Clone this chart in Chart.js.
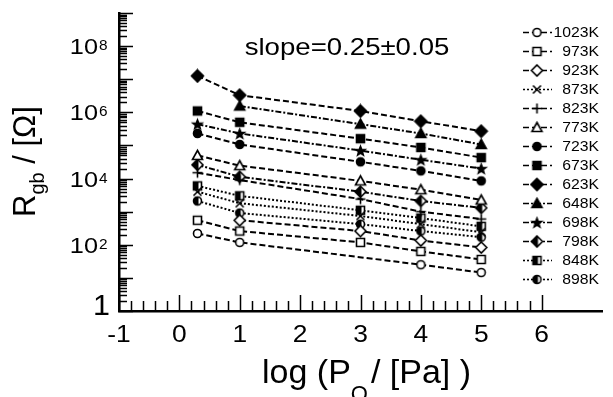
<!DOCTYPE html>
<html>
<head>
<meta charset="utf-8">
<script src="https://cdn.jsdelivr.net/npm/chart.js@4.4.0/dist/chart.umd.min.js"></script>
<style>
html,body{margin:0;padding:0;background:#fff}
#wrap{width:613px;height:397px}
</style>
</head>
<body>
<div id="wrap"><canvas id="c" width="613" height="397"></canvas></div>
<script>
// log(PO2/Pa) measurement points
const pO2 = [0.3, 1, 3, 4, 5];
const temps = ['1023K','973K','923K','873K','823K','773K','723K','673K','623K','648K','698K','798K','848K','898K'];
// grain boundary resistance (ohm); null = no point
const r1023 = [220, 118, null, 25, 14.5];
const r973  = [550, 260, 118, 63, 36];
const r923  = [null, 550, 260, 135, 83];
const r873  = [4000, 1800, 740, 420, 240];
const r823  = [15000, 9000, 2400, 1000, 600];
const r773  = [50000, 24500, 8500, 4600, 2250];
const r723  = [230000, 107000, 32000, 17000, 8500];
const r673  = [1100000, 500000, 160000, 87000, 43000];
const r623  = [12600000, 3300000, 1100000, 540000, 270000];
const r648  = [null, 1550000, 440000, 230000, 107000];
const r698  = [440000, 230000, 70000, 37000, 20000];
const r798  = [26000, 11300, 4000, 2100, 1300];
const r848  = [6000, 3000, 1100, 640, 360];
const r898  = [2100, 910, 420, 260, 170];
const series = [r1023,r973,r923,r873,r823,r773,r723,r673,r623,r648,r698,r798,r848,r898];
const xTicks = [-1,0,1,2,3,4,5,6];
const yLabelExp = [2,4,6,8];

const FONT = '"Liberation Sans", Arial, Helvetica, sans-serif';
const DASH = [6,3], DASHDOT = [6,2,2,2], DOT = [2,2];

function marker(shape, fill){
  const c = document.createElement('canvas');
  c.width = c.height = 15;
  const g = c.getContext('2d');
  const m = 7.5;
  g.lineWidth = 1.6; g.strokeStyle = '#000';
  g.beginPath();
  if(shape==='circle'){ g.arc(m,m,4,0,Math.PI*2); }
  else if(shape==='square'){ g.rect(m-4,m-4,8,8); }
  else if(shape==='diamond'){ const d = fill==='full'?6:5.5; g.moveTo(m,m-d);g.lineTo(m+d,m);g.lineTo(m,m+d);g.lineTo(m-d,m);g.closePath(); }
  else if(shape==='triangle'){ g.moveTo(m,m-5);g.lineTo(m+5,m+4);g.lineTo(m-5,m+4);g.closePath(); }
  else if(shape==='star'){
    for(let i=0;i<10;i++){ const r=i%2?2:4.8, a=-Math.PI/2+i*Math.PI/5; const px=m+r*Math.cos(a), py=m+0.5+r*Math.sin(a); i?g.lineTo(px,py):g.moveTo(px,py); }
    g.closePath();
  }
  else if(shape==='plus'){ g.moveTo(m-5,m);g.lineTo(m+5,m);g.moveTo(m,m-5);g.lineTo(m,m+5); g.stroke(); return c; }
  else if(shape==='cross'){ g.moveTo(m-4,m-4);g.lineTo(m+4,m+4);g.moveTo(m+4,m-4);g.lineTo(m-4,m+4); g.stroke(); return c; }
  g.fillStyle = '#fff'; g.fill();
  if(fill==='full'){ g.fillStyle='#000'; g.fill(); }
  if(fill==='half'){ g.save(); g.clip(); g.fillStyle='#000'; g.fillRect(0,0,m+1,15); g.restore(); }
  g.stroke();
  return c;
}

const styles = [
  [marker('circle','open'), DASH],
  [marker('square','open'), DASH],
  [marker('diamond','open'), DASH],
  [marker('cross'), DOT],
  [marker('plus'), DASH],
  [marker('triangle','open'), DASH],
  [marker('circle','full'), DASH],
  [marker('square','full'), DASH],
  [marker('diamond','full'), DASH],
  [marker('triangle','full'), DASHDOT],
  [marker('star','full'), DASHDOT],
  [marker('diamond','half'), DASHDOT],
  [marker('square','half'), DOT],
  [marker('circle','half'), DOT]
];

const datasets = temps.map((t,i)=>({
  label: t,
  data: pO2.map((x,j)=>({x, y: series[i][j]})),
  showLine: true, spanGaps: true,
  borderColor: '#000', borderWidth: 2, borderDash: styles[i][1],
  pointStyle: styles[i][0], pointRadius: 5
}));

function txt(ctx, s, x, y, size, align, sx){
  ctx.save();
  ctx.font = size + 'px ' + FONT;
  ctx.fillStyle = '#000';
  ctx.textAlign = align || 'left';
  ctx.textBaseline = 'alphabetic';
  ctx.translate(x, y);
  ctx.scale(sx || 1, 1);
  ctx.fillText(s, 0, 0);
  const w = ctx.measureText(s).width * (sx || 1);
  ctx.restore();
  return w;
}

const decor = {
  id: 'decor',
  afterDraw(chart){
    const ctx = chart.ctx, xs = chart.scales.x, ys = chart.scales.y, a = chart.chartArea;
    ctx.save();
    ctx.strokeStyle = '#000'; ctx.lineWidth = 1.5; ctx.setLineDash([]);
    // x ticks pointing inward
    ctx.beginPath();
    for(let i=-5;i<=30;i++){
      const px = Math.round(xs.getPixelForValue(i/5)) + 0.5;
      const len = i%5===0 ? 16 : 10;
      ctx.moveTo(px, a.bottom); ctx.lineTo(px, a.bottom - len);
    }
    // y ticks (log) pointing inward
    for(let k=0;k<=9;k++){
      const py = Math.round(ys.getPixelForValue(Math.pow(10,k))) + 0.5;
      ctx.moveTo(a.left, py); ctx.lineTo(a.left + 14, py);
      if(k<9) for(let m=2;m<=9;m++){
        const q = Math.round(ys.getPixelForValue(m*Math.pow(10,k))) + 0.5;
        ctx.moveTo(a.left, q); ctx.lineTo(a.left + 8, q);
      }
    }
    ctx.stroke();
    // x tick labels
    xTicks.forEach(v=>{
      txt(ctx, v<0 ? '-' + Math.abs(v) : String(v), xs.getPixelForValue(v), 342, 24, 'center', 1.1);
    });
    // y tick labels
    txt(ctx, '1', 110, ys.getPixelForValue(1) + 4, 29, 'right', 1.05);
    yLabelExp.forEach(k=>{
      const py = ys.getPixelForValue(Math.pow(10,k));
      txt(ctx, '10', 98, py + 8, 22, 'right', 1.15);
      txt(ctx, String(k), 99, py + 4, 14, 'left', 1.1);
    });
    // annotation
    txt(ctx, 'slope=0.25\u00b10.05', 347, 55, 24, 'center', 1.15);
    // x title
    let x = 262;
    x += txt(ctx, 'log (P', x, 383, 34, 'left', 1);
    const wo = txt(ctx, 'O', x, 401, 22, 'left', 1);
    txt(ctx, '2', x + wo, 407, 14, 'left', 1);
    txt(ctx, '/ [Pa] )', x + wo + 3, 383, 34, 'left', 1);
    // y title (rotated)
    ctx.save();
    ctx.translate(35, 217);
    ctx.rotate(-Math.PI/2);
    let t = 0;
    t += txt(ctx, 'R', t, 0, 31, 'left', 1);
    t += txt(ctx, 'gb', t, 9, 20, 'left', 1);
    txt(ctx, ' / [\u03a9]', t, 0, 31, 'left', 1);
    ctx.restore();
    // legend
    chart.data.datasets.forEach((ds,i)=>{
      const y = 32 + 19*i;
      ctx.save();
      ctx.lineWidth = 1.6; ctx.setLineDash(ds.borderDash);
      ctx.beginPath(); ctx.moveTo(523, y + 0.5); ctx.lineTo(552, y + 0.5); ctx.stroke();
      ctx.restore();
      ctx.drawImage(ds.pointStyle, 537 - 7.5, y - 7);
      txt(ctx, ds.label, 599, y + 5, 15, 'right', 1.05);
    });
    ctx.restore();
  }
};

new Chart(document.getElementById('c'), {
  type: 'scatter',
  data: { datasets },
  options: {
    responsive: false, animation: false, devicePixelRatio: 1,
    layout: { padding: { left: 119, top: 13, right: 11, bottom: 86 } },
    plugins: { legend: { display: false }, tooltip: { enabled: false } },
    scales: {
      x: {
        type: 'linear', min: -1, max: 7,
        grid: { display: false, drawTicks: false },
        border: { display: true, color: '#000', width: 2.5 },
        ticks: { display: false }
      },
      y: {
        type: 'logarithmic', min: 1, max: 1e9,
        grid: { display: false, drawTicks: false },
        border: { display: true, color: '#000', width: 2.5 },
        ticks: { display: false }
      }
    }
  },
  plugins: [decor]
});
</script>
</body>
</html>
